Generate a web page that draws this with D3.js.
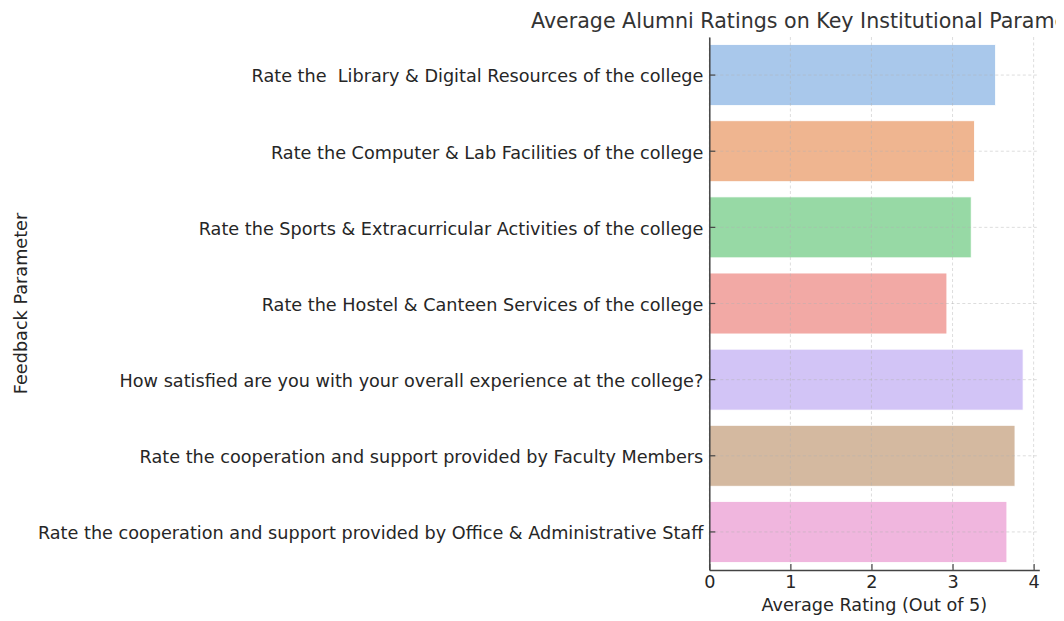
<!DOCTYPE html>
<html>
<head>
<meta charset="utf-8">
<script src="https://cdn.jsdelivr.net/npm/d3@7"></script>
<style>
  html, body { margin: 0; padding: 0; background: #fff; }
  svg text { font-family: "DejaVu Sans", sans-serif; white-space: pre; }
</style>
</head>
<body>
<svg id="chart" width="1064" height="621"></svg>
<script>
const categories = [
  "Rate the  Library & Digital Resources of the college",
  "Rate the Computer & Lab Facilities of the college",
  "Rate the Sports & Extracurricular Activities of the college",
  "Rate the Hostel & Canteen Services of the college",
  "How satisfied are you with your overall experience at the college?",
  "Rate the cooperation and support provided by Faculty Members",
  "Rate the cooperation and support provided by Office & Administrative Staff"
];
const ratings = [3.53, 3.27, 3.23, 2.93, 3.87, 3.77, 3.67];
const barColors = ["#a9c8eb", "#efb590", "#97d9a5", "#f2a9a5", "#d2c4f6", "#d4b9a0", "#f0b6de"];
const xTicks = [0, 1, 2, 3, 4];
const titleText = "Average Alumni Ratings on Key Institutional Parameters";
const xLabel = "Average Rating (Out of 5)";
const yLabel = "Feedback Parameter";

const svg = d3.select("#chart");
const pLeft = 709.3, pRight = 1039.3, pTop = 37, pBottom = 570;
const fs = 17.65, fsTitle = 20.6;

const x = d3.scaleLinear().domain([0, 4.07]).range([pLeft, pRight]);
const y = d3.scaleBand().domain(categories).range([pTop, pBottom]).paddingInner(0.2).paddingOuter(0.1);

svg.append("defs").append("clipPath").attr("id", "clipAll")
  .append("rect").attr("x", 0).attr("y", 0).attr("width", 1056).attr("height", 621);

// bars
svg.append("g").selectAll("rect").data(categories).join("rect")
  .attr("x", x(0))
  .attr("y", d => y(d))
  .attr("width", (d, i) => x(ratings[i]) - x(0))
  .attr("height", y.bandwidth())
  .attr("fill", (d, i) => barColors[i])
  .attr("stroke", "#ffffff")
  .attr("stroke-width", 0.8);

// grid (drawn over bars, as in reference)
const grid = svg.append("g").attr("stroke", "#b0b0b0").attr("stroke-opacity", 0.55)
  .attr("stroke-width", 0.8).attr("stroke-dasharray", "3,2.5");
grid.selectAll("line.v").data(xTicks).join("line").attr("class", "v")
  .attr("x1", d => x(d)).attr("x2", d => x(d)).attr("y1", pTop).attr("y2", pBottom);
grid.selectAll("line.h").data(categories).join("line").attr("class", "h")
  .attr("x1", pLeft).attr("x2", pRight)
  .attr("y1", d => y(d) + y.bandwidth() / 2).attr("y2", d => y(d) + y.bandwidth() / 2);

// axes
const xAxis = d3.axisBottom(x).tickValues(xTicks).tickFormat(d3.format("d")).tickSizeInner(-6).tickSizeOuter(0).tickPadding(5.5);
const gx = svg.append("g").attr("transform", `translate(0,${pBottom})`).call(xAxis);
gx.select(".domain").attr("stroke", "#444").attr("stroke-width", 1.5);
gx.selectAll(".tick line").attr("stroke", "#444").attr("stroke-width", 1.2);
gx.selectAll(".tick text").attr("font-size", fs).attr("fill", "#262626").attr("font-family", "DejaVu Sans");

const yAxis = d3.axisLeft(y).tickSizeInner(-6).tickSizeOuter(0).tickPadding(6);
const gy = svg.append("g").attr("transform", `translate(${pLeft},0)`).call(yAxis);
gy.select(".domain").attr("stroke", "#444").attr("stroke-width", 1.5);
gy.selectAll(".tick line").attr("stroke", "#444").attr("stroke-width", 1.2);
gy.selectAll(".tick text").attr("font-size", fs).attr("fill", "#262626").attr("font-family", "DejaVu Sans")
  .attr("x", -6).attr("dy", "0.42em");

// labels
svg.append("text").attr("x", (pLeft + pRight) / 2).attr("y", 611).attr("text-anchor", "middle")
  .attr("font-size", fs).attr("fill", "#262626").text(xLabel);
svg.append("text").attr("transform", `translate(27,${(pTop + pBottom) / 2}) rotate(-90)`).attr("text-anchor", "middle")
  .attr("font-size", fs).attr("fill", "#262626").text(yLabel);

// title (runs past the right edge, as in the reference)
svg.append("text").attr("clip-path", "url(#clipAll)")
  .attr("x", 531).attr("y", 28).attr("text-anchor", "start")
  .attr("font-size", fsTitle).attr("fill", "#333").text(titleText);
</script>
</body>
</html>
